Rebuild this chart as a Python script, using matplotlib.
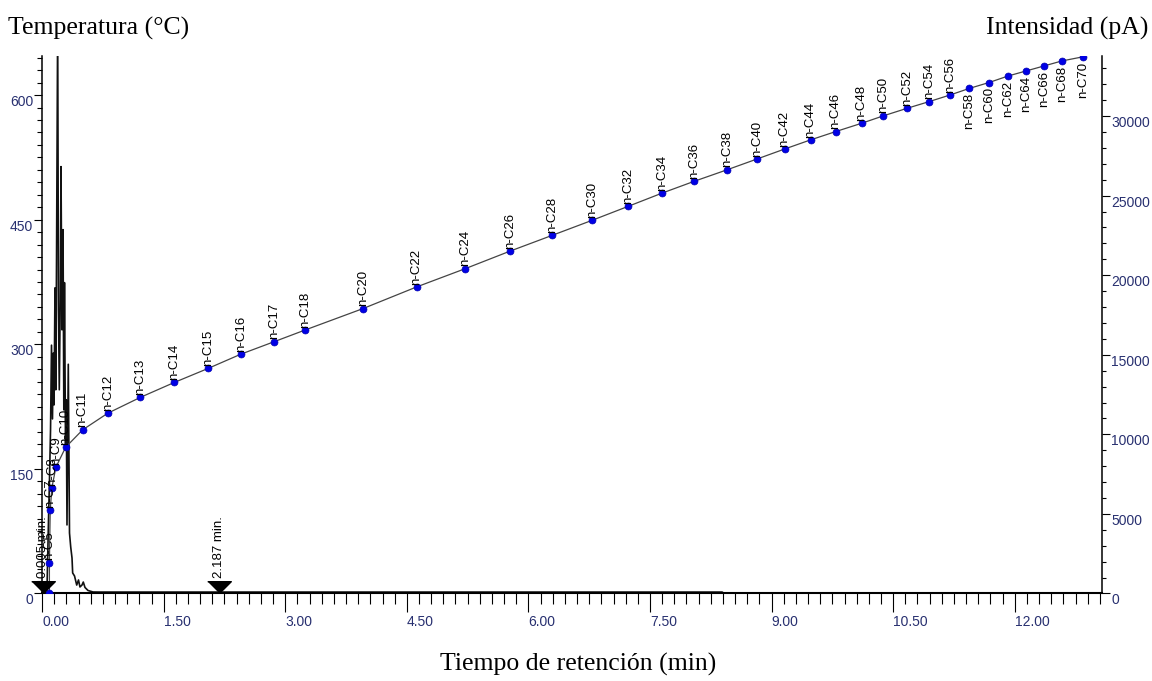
import matplotlib
matplotlib.use("Agg")
import matplotlib.pyplot as plt
from matplotlib.ticker import MultipleLocator, FixedLocator

# curva de calibración: tiempo de retención (min) vs punto de ebullición (°C)
cadenas = ['', 'n-C5', 'n-C7', 'n-C8', 'n-C9', 'n-C10', 'n-C11', 'n-C12', 'n-C13',
           'n-C14', 'n-C15', 'n-C16', 'n-C17', 'n-C18', 'n-C20', 'n-C22', 'n-C24',
           'n-C26', 'n-C28', 'n-C30', 'n-C32', 'n-C34', 'n-C36', 'n-C38', 'n-C40',
           'n-C42', 'n-C44', 'n-C46', 'n-C48', 'n-C50', 'n-C52', 'n-C54', 'n-C56',
           'n-C58', 'n-C60', 'n-C62', 'n-C64', 'n-C66', 'n-C68', 'n-C70']
tiempos = [0.09, 0.09, 0.10, 0.12, 0.17, 0.29, 0.50, 0.81, 1.21,
           1.63, 2.05, 2.45, 2.86, 3.24, 3.96, 4.62, 5.22,
           5.77, 6.29, 6.78, 7.23, 7.65, 8.04, 8.45, 8.82,
           9.16, 9.48, 9.79, 10.11, 10.38, 10.67, 10.94, 11.20,
           11.44, 11.68, 11.92, 12.14, 12.36, 12.58, 12.84]
temperaturas = [1, 37, 100, 127, 152, 176, 197, 217, 236,
                254, 271, 288, 303, 317, 343, 369, 391,
                412, 431, 449, 466, 482, 496, 510, 523,
                535, 546, 556, 566, 575, 584, 592, 600,
                608, 615, 623, 629, 635, 641, 646]
# etiquetas que van por debajo de la curva
abajo = ['n-C58', 'n-C60', 'n-C62', 'n-C64', 'n-C66', 'n-C68', 'n-C70']

# señal del detector (pA)
senal_t = [0.0, 0.011, 0.060, 0.079, 0.091, 0.104, 0.116, 0.128, 0.138, 0.147,
           0.159, 0.169, 0.178, 0.192, 0.202, 0.212, 0.224, 0.233, 0.245, 0.258,
           0.268, 0.276, 0.289, 0.298, 0.307, 0.323, 0.338, 0.353, 0.369, 0.377,
           0.400, 0.427, 0.449, 0.467, 0.492, 0.508, 0.529, 0.566, 0.628, 0.714,
           8.39, 8.41, 13.08]
senal_pA = [60, 63, 220, 4620, 7130, 10280, 15600, 10970, 15100, 11850,
            19200, 12800, 20970, 36000, 17830, 12800, 18460, 26820, 16570, 22860,
            11540, 19530, 9025, 12170, 4310, 14400, 3800, 2920, 2230, 1290,
            1100, 530, 850, 410, 530, 720, 380, 190, 95, 90,
            90, 20, 20]

# marcas de tiempo
marcas_t = [0.005, 2.187]
marcas_txt = ['0.005 min.', '2.187 min.']

x_ticks = [0, 1.5, 3, 4.5, 6, 7.5, 9, 10.5, 12]
x_labels = ['0.00', '1.50', '3.00', '4.50', '6.00', '7.50', '9.00', '10.50', '12.00']
t_ticks = [0, 150, 300, 450, 600]
i_ticks = [0, 5000, 10000, 15000, 20000, 25000, 30000]

azul_txt = '#283070'
plt.rcParams['font.family'] = ['Liberation Sans', 'DejaVu Sans']

fig = plt.figure(figsize=(11.52, 6.81), dpi=100)
ax = fig.add_axes([0.03655, 0.12849, 0.92031, 0.78928])
ax2 = ax.twinx()
ax.set_zorder(ax2.get_zorder() + 1)
ax.patch.set_visible(False)

# cromatograma en el eje derecho
ax2.plot(senal_t, senal_pA, color='#111111', lw=1.2, zorder=2)
ax2.set_ylim(0, 33770)
ax2.yaxis.set_major_locator(FixedLocator(i_ticks))
ax2.yaxis.set_minor_locator(MultipleLocator(1000))
ax2.set_yticklabels([str(v) for v in i_ticks])
ax2.tick_params(axis='y', which='major', length=5.8, width=0.8, pad=0.5,
                labelsize=10, labelcolor=azul_txt)
ax2.tick_params(axis='y', which='minor', length=2.6, width=0.8)
for lbl in ax2.get_yticklabels():
    lbl.set_va('top')
ax2.xaxis.set_visible(False)
for s in ['top', 'left', 'bottom']:
    ax2.spines[s].set_visible(False)
ax2.spines['right'].set_linewidth(1.1)

# curva de temperatura en el eje izquierdo
ax.plot(tiempos, temperaturas, color='#444444', lw=0.9, zorder=3)
ax.plot(tiempos, temperaturas, 'o', color='#0000e6', ms=5, mec='#0000b0',
        mew=0.5, zorder=4)
for t, temp, txt in zip(tiempos, temperaturas, cadenas):
    if not txt:
        continue
    if txt in abajo:
        ax.annotate(txt, (t, temp), xytext=(0, -3.4), textcoords='offset points',
                    rotation=90, ha='center', va='top', fontsize=9.5, zorder=6)
    else:
        ax.annotate(txt, (t, temp), xytext=(0, 1.7), textcoords='offset points',
                    rotation=90, ha='center', va='bottom', fontsize=9.5, zorder=6)

# triángulos de marca sobre la línea base
for t, txt in zip(marcas_t, marcas_txt):
    ax.plot([t], [0], marker=[(-1, 1), (1, 1), (0, 0)], ms=17, color='black',
            clip_on=False, zorder=5)
    ax.annotate(txt, (t, 0), xytext=(0, 11), textcoords='offset points',
                rotation=90, ha='center', va='bottom', fontsize=9.5, zorder=6)

ax.set_xlim(0, 13.08)
ax.set_ylim(0, 647)
ax.xaxis.set_major_locator(FixedLocator(x_ticks))
ax.xaxis.set_minor_locator(MultipleLocator(0.15))
ax.set_xticklabels(x_labels)
ax.yaxis.set_major_locator(FixedLocator(t_ticks))
ax.yaxis.set_minor_locator(MultipleLocator(15))
ax.set_yticklabels([str(v) for v in t_ticks])
ax.tick_params(axis='x', which='major', length=13.7, width=0.8, pad=1.5,
               labelsize=10, labelcolor=azul_txt)
ax.tick_params(axis='x', which='minor', length=8, width=0.8)
ax.tick_params(axis='y', which='major', length=5.8, width=0.8, pad=0.5,
               labelsize=10, labelcolor=azul_txt)
ax.tick_params(axis='y', which='minor', length=3.3, width=0.8)
for lbl in ax.get_xticklabels():
    lbl.set_ha('left')
for lbl in ax.get_yticklabels():
    lbl.set_va('top')
ax.spines['top'].set_visible(False)
ax.spines['right'].set_visible(False)
ax.spines['left'].set_linewidth(1.1)
ax.spines['bottom'].set_linewidth(1.5)

serif = ['Liberation Serif', 'DejaVu Serif']
fig.text(8 / 1152, 1 - 28 / 681, 'Temperatura (°C)', ha='left', va='center',
         family=serif, fontsize=18.5)
fig.text(1148 / 1152, 1 - 28 / 681, 'Intensidad (pA)', ha='right', va='center',
         family=serif, fontsize=18.5)
fig.text(578 / 1152, 1 - 664 / 681, 'Tiempo de retención (min)', ha='center',
         va='center', family=serif, fontsize=18.5)

fig.savefig('out.png', dpi=100)
